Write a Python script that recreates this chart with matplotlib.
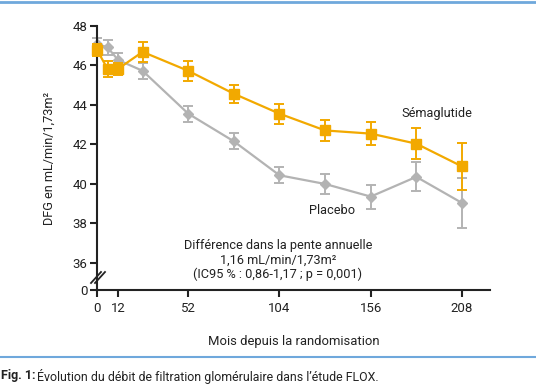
import matplotlib
matplotlib.use("Agg")
import matplotlib.pyplot as plt
from matplotlib.lines import Line2D

plt.rcParams['font.family'] = ['Roboto', 'DejaVu Sans']

months_sema = [0, 6, 12, 26, 52, 78, 104, 130, 156, 182, 208]
sema = [46.79, 45.83, 45.83, 46.69, 45.73, 44.57, 43.56, 42.71, 42.55, 42.04, 40.89]
sema_err = [0.3, 0.42, 0.3, 0.52, 0.5, 0.46, 0.5, 0.55, 0.58, 0.8, 1.2]

months_plac = [0, 6, 12, 26, 52, 78, 104, 130, 156, 182, 208]
plac = [47.09, 46.92, 46.28, 45.73, 43.56, 42.16, 40.44, 40.0, 39.36, 40.36, 39.04]
plac_err = [0.3, 0.38, 0.36, 0.4, 0.4, 0.4, 0.41, 0.5, 0.61, 0.73, 1.27]

xticks = [0, 12, 52, 104, 156, 208]
yticks = [36, 38, 40, 42, 44, 46, 48]
y_zero_pos = 34.63

ORANGE = '#F2A900'
GRAY = '#B3B3B3'
BLUE = '#6FA8DC'
DARK = '#222222'

fig = plt.figure(figsize=(5.36, 3.86), dpi=100)
ax = fig.add_axes([97/536, 1-290/386, (490-97)/536, (290-26)/386])

for art in ax.errorbar(months_plac, plac, yerr=plac_err, color=GRAY, marker='D', markersize=5,
                       lw=1.6, elinewidth=1.4, capsize=3.5, capthick=1.4, zorder=2).get_children():
    art.set_clip_on(False)
for art in ax.errorbar(months_sema, sema, yerr=sema_err, color=ORANGE, marker='s', markersize=6.5,
                       lw=1.6, elinewidth=1.4, capsize=3.5, capthick=1.4, zorder=3).get_children():
    art.set_clip_on(False)

ax.set_xlim(0, 224)
ax.set_ylim(y_zero_pos, 48)
ax.set_xticks(xticks)
ax.set_xticklabels([str(v) for v in xticks])
ax.set_yticks(yticks + [y_zero_pos])
ax.set_yticklabels([str(v) for v in yticks] + ['0'])

for s in ['top', 'right']:
    ax.spines[s].set_visible(False)
for s in ['left', 'bottom']:
    ax.spines[s].set_linewidth(1.5)
    ax.spines[s].set_color(DARK)
ax.tick_params(axis='both', length=5, width=1.5, color=DARK, labelsize=9.5,
               labelcolor=DARK, pad=2)
ax.tick_params(axis='x', pad=4)

ax.set_xlabel('Mois depuis la randomisation', fontsize=9.4, color=DARK, labelpad=14)
ax.set_ylabel('DFG en mL/min/1,73m²', fontsize=9.2, color=DARK, labelpad=12)

fig.text(437/536, 1-114/386, 'Sémaglutide', fontsize=9.2, color=DARK,
         ha='center', va='center')
fig.text(332/536, 1-210/386, 'Placebo', fontsize=9.2, color=DARK,
         ha='center', va='center')

fig.text(278/536, 1-245/386, 'Différence dans la pente annuelle', fontsize=9.2,
         color=DARK, ha='center', va='center')
fig.text(278/536, 1-260/386, '1,16 mL/min/1,73m²', fontsize=9.2,
         color=DARK, ha='center', va='center')
fig.text(278/536, 1-274/386, '(IC95 % : 0,86-1,17 ; p = 0,001)', fontsize=9.2,
         color=DARK, ha='center', va='center')

# axis break marks
for dx in [0, 4]:
    fig.add_artist(Line2D([(91+dx)/536, (101+dx)/536], [1-283/386, 1-272/386],
                          color=DARK, lw=1.3))

# decorative blue lines
fig.add_artist(Line2D([0, 1], [1-2/386, 1-2/386], color=BLUE, lw=2))
fig.add_artist(Line2D([0, 1], [1-357/386, 1-357/386], color=BLUE, lw=1.5))

fig.text(1/536, 1-376/386, 'Fig. 1:', fontsize=9.0, fontweight='bold',
         color=DARK, ha='left', va='center')
fig.text(37/536, 1-376/386, 'Évolution du débit de filtration glomérulaire dans l\u2019étude FLOX.',
         fontsize=8.9, color=DARK, ha='left', va='center')

fig.savefig('out.png', dpi=100)
